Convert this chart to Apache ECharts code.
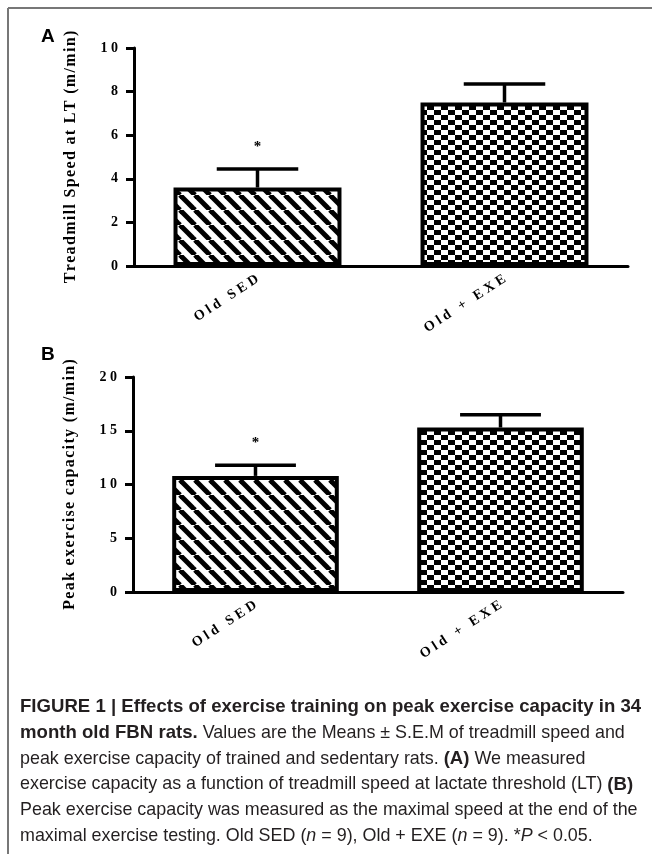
<!DOCTYPE html>
<html>
<head>
<meta charset="utf-8">
<script src="https://cdn.jsdelivr.net/npm/echarts@6/dist/echarts.min.js"></script>
<style>
html,body{margin:0;padding:0;background:#fff;}
#chart{width:654px;height:854px;}
</style>
</head>
<body>
<div id="chart"></div>
<script>
// ---- data ----
const categories = ['Old SED', 'Old + EXE'];
const ltMeans = [3.6, 7.5];
const ltSem = [0.85, 0.85];
const peakMeans = [10.8, 15.3];
const peakSem = [1.0, 1.2];
const significance = ['*', ''];
const ltTitle = 'Treadmill Speed at LT (m/min)';
const peakTitle = 'Peak exercise capacity (m/min)';

// ---- patterns ----
function stripeTile() {
  const s = 15, c = document.createElement('canvas');
  c.width = s; c.height = s;
  const g = c.getContext('2d');
  g.fillStyle = '#fff'; g.fillRect(0, 0, s, s);
  g.strokeStyle = '#000'; g.lineWidth = 5;
  for (const o of [-s, 0, s]) { g.beginPath(); g.moveTo(o, 0); g.lineTo(o + s, s); g.stroke(); }
  return c;
}
function checkTile() {
  const w = 7, h = 5, c = document.createElement('canvas');
  c.width = 2 * w; c.height = 2 * h;
  const g = c.getContext('2d');
  g.fillStyle = '#fff'; g.fillRect(0, 0, 2 * w, 2 * h);
  g.fillStyle = '#000'; g.fillRect(0, 0, w, h); g.fillRect(w, h, w, h);
  return c;
}
const fills = [{ image: stripeTile(), repeat: 'repeat' }, { image: checkTile(), repeat: 'repeat' }];

const spaced = s => s.split('').join('\u200A');
const serif = "'Liberation Serif', 'Times New Roman', serif";

function xAxisCfg(gi) {
  return {
    type: 'category', gridIndex: gi, data: categories,
    axisLine: { lineStyle: { color: '#000', width: 3 } },
    axisTick: { alignWithLabel: true, length: 6, lineStyle: { color: '#000', width: 3 } },
    axisLabel: {
      rotate: 33, margin: 12, color: '#000', fontFamily: serif, fontWeight: 'bold', fontSize: 14,
      formatter: v => v.split('').join(' ')
    }
  };
}
function yAxisCfg(gi, max, interval, name) {
  return {
    type: 'value', gridIndex: gi, min: 0, max: max, interval: interval,
    name: spaced(name), nameLocation: 'middle', nameGap: 55,
    nameTextStyle: { color: '#000', fontFamily: serif, fontWeight: 'bold', fontSize: 16 },
    splitLine: { show: false },
    axisLine: { show: true, lineStyle: { color: '#000', width: 3 } },
    axisTick: { show: true, length: 8, lineStyle: { color: '#000', width: 3 } },
    axisLabel: {
      margin: 16, color: '#000', fontFamily: serif, fontWeight: 'bold', fontSize: 14,
      formatter: v => String(v).split('').join(' ')
    }
  };
}
function barSeries(gi, means) {
  return {
    type: 'bar', xAxisIndex: gi, yAxisIndex: gi, barWidth: '68%',
    data: means.map((m, i) => ({ value: m, itemStyle: { color: fills[i] } })),
    itemStyle: { borderColor: '#000', borderWidth: 4 },
    silent: true, animation: false
  };
}
function errSeries(gi, means, sems) {
  return {
    type: 'custom', xAxisIndex: gi, yAxisIndex: gi, animation: false, silent: true, z: 5,
    data: means.map((m, i) => [i, m, sems[i]]),
    encode: { x: 0, y: 1 },
    renderItem: function (params, api) {
      const i = api.value(0), m = api.value(1), e = api.value(2);
      const b = api.coord([i, m]), t = api.coord([i, m + e]);
      const hw = api.size([1, 0])[0] * 0.165;
      const ch = [
        { type: 'line', shape: { x1: b[0], y1: b[1], x2: t[0], y2: t[1] }, style: { stroke: '#000', lineWidth: 3.5 } },
        { type: 'line', shape: { x1: t[0] - hw, y1: t[1], x2: t[0] + hw, y2: t[1] }, style: { stroke: '#000', lineWidth: 3.5 } }
      ];
      const star = significance[params.dataIndex];
      if (star) ch.push({ type: 'text', x: t[0], y: t[1] - 22, style: { text: star, fill: '#000', font: 'bold 15px ' + serif, align: 'center', verticalAlign: 'middle' } });
      return { type: 'group', children: ch };
    }
  };
}

const capFont = "'Liberation Sans', Arial, sans-serif";
const rich = {
  r: { fontFamily: capFont, fontSize: 17.9, fill: '#231f20' },
  b: { fontFamily: capFont, fontSize: 18.6, fontWeight: 'bold', fill: '#231f20' },
  i: { fontFamily: capFont, fontSize: 17.9, fontStyle: 'italic', fill: '#231f20' }
};
const captionLines = [
  '{b|FIGURE 1 | Effects of exercise training on peak exercise capacity in 34}',
  '{b|month old FBN rats.}{r| Values are the Means ± S.E.M of treadmill speed and}',
  '{r|peak exercise capacity of trained and sedentary rats. }{b|(A)}{r| We measured}',
  '{r|exercise capacity as a function of treadmill speed at lactate threshold (LT) }{b|(B)}',
  '{r|Peak exercise capacity was measured as the maximal speed at the end of the}',
  '{r|maximal exercise testing. Old SED (}{i|n}{r| = 9), Old + EXE (}{i|n}{r| = 9). *}{i|P}{r| < 0.05.}'
];
const lineY0 = 707, lineStep = 25.8;
const graphics = [
  { type: 'line', shape: { x1: 8, y1: 8, x2: 652, y2: 8 }, style: { stroke: '#777', lineWidth: 2 } },
  { type: 'line', shape: { x1: 8, y1: 8, x2: 8, y2: 854 }, style: { stroke: '#777', lineWidth: 2 } },
  { type: 'text', x: 41, y: 37, style: { text: 'A', font: "bold 19px " + capFont, fill: '#000', verticalAlign: 'middle' } },
  { type: 'text', x: 41, y: 355, style: { text: 'B', font: "bold 19px " + capFont, fill: '#000', verticalAlign: 'middle' } }
];
captionLines.forEach((t, k) => {
  graphics.push({ type: 'text', x: 20, y: lineY0 + k * lineStep, style: { text: t, rich: rich, verticalAlign: 'middle', fontFamily: capFont, fontSize: 18 } });
});

const chart = echarts.init(document.getElementById('chart'), null, { renderer: 'canvas' });
chart.setOption({
  animation: false,
  backgroundColor: '#fff',
  grid: [
    { left: 134, top: 48, width: 494, height: 218 },
    { left: 133, top: 377, width: 490, height: 215 }
  ],
  xAxis: [xAxisCfg(0), xAxisCfg(1)],
  yAxis: [yAxisCfg(0, 10, 2, ltTitle), yAxisCfg(1, 20, 5, peakTitle)],
  series: [barSeries(0, ltMeans), errSeries(0, ltMeans, ltSem), barSeries(1, peakMeans), errSeries(1, peakMeans, peakSem)],
  graphic: graphics
});
</script>
</body>
</html>
